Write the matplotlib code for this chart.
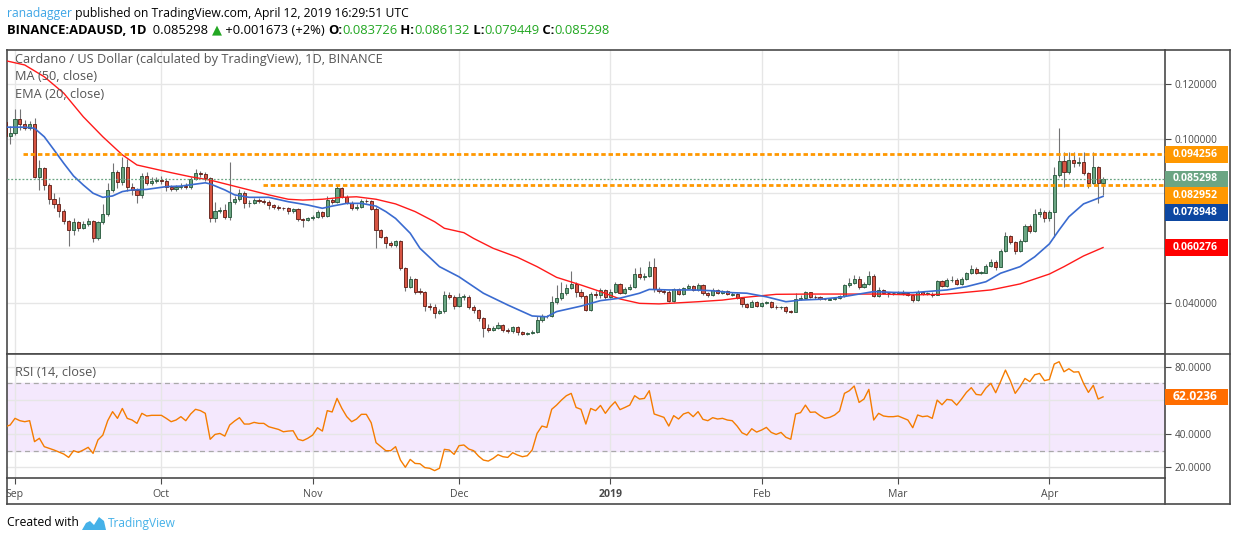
import datetime as dt
import numpy as np
import matplotlib
matplotlib.use('Agg')
import matplotlib.pyplot as plt
import matplotlib.dates as mdates
from matplotlib.lines import Line2D
from matplotlib.patches import Polygon, Rectangle

plt.rcParams['font.family'] = ['Open Sans', 'DejaVu Sans']

# ---- data (daily candles, BINANCE ADAUSD) ----
start = dt.datetime(2018, 8, 30)
first_open = 0.1062

closes = [
    0.1010, 0.1022, 0.1071, 0.1054, 0.1038, 0.1054, 0.0861, 0.0892, 0.0831, 0.0779,
    0.0762, 0.0737, 0.0701, 0.0667, 0.0695, 0.0675, 0.0690, 0.0700, 0.0636, 0.0695,
    0.0725, 0.0813, 0.0877, 0.0843, 0.0898, 0.0825, 0.0813, 0.0795, 0.0864, 0.0840,
    0.0846, 0.0850, 0.0846, 0.0823, 0.0815, 0.0822, 0.0829, 0.0822, 0.0852, 0.0874,
    0.0870, 0.0855, 0.0709, 0.0737, 0.0740, 0.0715, 0.0768, 0.0779, 0.0801, 0.0766,
    0.0766, 0.0776, 0.0774, 0.0770, 0.0757, 0.0752, 0.0747, 0.0746, 0.0735, 0.0742,
    0.0707, 0.0705, 0.0709, 0.0715, 0.0731, 0.0719, 0.0776, 0.0768, 0.0819, 0.0788,
    0.0766, 0.0746, 0.0752, 0.0773, 0.0771, 0.0745, 0.0667, 0.0642, 0.0618, 0.0611,
    0.0627, 0.0527, 0.0460, 0.0488, 0.0442, 0.0441, 0.0389, 0.0385, 0.0365, 0.0371,
    0.0428, 0.0424, 0.0389, 0.0423, 0.0424, 0.0387, 0.0375, 0.0344, 0.0310, 0.0303,
    0.0310, 0.0320, 0.0302, 0.0297, 0.0312, 0.0293, 0.0289, 0.0290, 0.0296, 0.0338,
    0.0354, 0.0352, 0.0403, 0.0417, 0.0436, 0.0455, 0.0469, 0.0440, 0.0426, 0.0375,
    0.0433, 0.0428, 0.0448, 0.0421, 0.0442, 0.0470, 0.0438, 0.0451, 0.0460, 0.0506,
    0.0494, 0.0499, 0.0533, 0.0450, 0.0445, 0.0442, 0.0409, 0.0450, 0.0432, 0.0454,
    0.0462, 0.0448, 0.0466, 0.0436, 0.0430, 0.0448, 0.0436, 0.0443, 0.0432, 0.0432,
    0.0418, 0.0396, 0.0387, 0.0405, 0.0391, 0.0399, 0.0403, 0.0387, 0.0385, 0.0385,
    0.0372, 0.0369, 0.0414, 0.0420, 0.0439, 0.0423, 0.0422, 0.0415, 0.0414, 0.0414,
    0.0418, 0.0426, 0.0466, 0.0474, 0.0488, 0.0460, 0.0470, 0.0500, 0.0427, 0.0448,
    0.0438, 0.0436, 0.0437, 0.0440, 0.0436, 0.0430, 0.0411, 0.0439, 0.0434, 0.0435,
    0.0430, 0.0480, 0.0463, 0.0484, 0.0484, 0.0470, 0.0487, 0.0509, 0.0524, 0.0511,
    0.0511, 0.0535, 0.0551, 0.0533, 0.0590, 0.0645, 0.0624, 0.0591, 0.0627, 0.0681,
    0.0664, 0.0724, 0.0734, 0.0712, 0.0731, 0.0868, 0.0919, 0.0880, 0.0922, 0.0910,
    0.0915, 0.0874, 0.0840, 0.0896, 0.083726, 0.085298,
]

highs = [
    0.1075, 0.1046, 0.1107, 0.1107, 0.1068, 0.1066, 0.1075, 0.0922, 0.0897, 0.0840,
    0.0800, 0.0788, 0.0745, 0.0705, 0.0712, 0.0700, 0.0698, 0.0710, 0.0705, 0.0700,
    0.0760, 0.0840, 0.0910, 0.0885, 0.0934, 0.0927, 0.0838, 0.0820, 0.0875, 0.0878,
    0.0860, 0.0862, 0.0865, 0.0855, 0.0832, 0.0830, 0.0840, 0.0838, 0.0860, 0.0890,
    0.0882, 0.0880, 0.0860, 0.0770, 0.0750, 0.0760, 0.0916, 0.0790, 0.0815, 0.0808,
    0.0775, 0.0782, 0.0782, 0.0780, 0.0776, 0.0762, 0.0758, 0.0752, 0.0752, 0.0748,
    0.0746, 0.0712, 0.0715, 0.0722, 0.0738, 0.0735, 0.0790, 0.0782, 0.0830, 0.0822,
    0.0795, 0.0772, 0.0760, 0.0780, 0.0780, 0.0778, 0.0750, 0.0670, 0.0645, 0.0628,
    0.0632, 0.0632, 0.0530, 0.0500, 0.0492, 0.0455, 0.0445, 0.0400, 0.0395, 0.0380,
    0.0445, 0.0440, 0.0430, 0.0438, 0.0432, 0.0428, 0.0392, 0.0378, 0.0350, 0.0325,
    0.0318, 0.0330, 0.0325, 0.0308, 0.0318, 0.0318, 0.0298, 0.0295, 0.0300, 0.0352,
    0.0362, 0.0358, 0.0425, 0.0466, 0.0478, 0.0470, 0.0517, 0.0478, 0.0450, 0.0430,
    0.0440, 0.0445, 0.0455, 0.0452, 0.0450, 0.0478, 0.0475, 0.0458, 0.0468, 0.0528,
    0.0531, 0.0508, 0.0553, 0.0564, 0.0458, 0.0452, 0.0446, 0.0455, 0.0455, 0.0458,
    0.0470, 0.0466, 0.0472, 0.0470, 0.0440, 0.0454, 0.0452, 0.0448, 0.0447, 0.0440,
    0.0436, 0.0420, 0.0400, 0.0410, 0.0408, 0.0404, 0.0408, 0.0406, 0.0392, 0.0390,
    0.0390, 0.0374, 0.0436, 0.0428, 0.0445, 0.0442, 0.0428, 0.0426, 0.0420, 0.0418,
    0.0422, 0.0430, 0.0470, 0.0490, 0.0503, 0.0500, 0.0478, 0.0517, 0.0505, 0.0458,
    0.0452, 0.0442, 0.0442, 0.0445, 0.0446, 0.0440, 0.0434, 0.0446, 0.0444, 0.0440,
    0.0440, 0.0486, 0.0486, 0.0490, 0.0500, 0.0490, 0.0495, 0.0515, 0.0540, 0.0530,
    0.0516, 0.0542, 0.0560, 0.0556, 0.0596, 0.0661, 0.0650, 0.0628, 0.0635, 0.0690,
    0.0690, 0.0742, 0.0748, 0.0740, 0.0740, 0.0898, 0.1038, 0.0950, 0.0953, 0.0953,
    0.0935, 0.0950, 0.0880, 0.0951, 0.0900, 0.086132,
]

lows = [
    0.1000, 0.0981, 0.1015, 0.1032, 0.1030, 0.1030, 0.0855, 0.0813, 0.0811, 0.0760,
    0.0748, 0.0715, 0.0690, 0.0608, 0.0650, 0.0662, 0.0670, 0.0682, 0.0624, 0.0630,
    0.0690, 0.0718, 0.0805, 0.0820, 0.0830, 0.0810, 0.0795, 0.0764, 0.0785, 0.0830,
    0.0832, 0.0838, 0.0835, 0.0810, 0.0808, 0.0808, 0.0815, 0.0815, 0.0815, 0.0848,
    0.0860, 0.0845, 0.0697, 0.0697, 0.0728, 0.0708, 0.0703, 0.0760, 0.0772, 0.0746,
    0.0752, 0.0760, 0.0766, 0.0762, 0.0745, 0.0744, 0.0738, 0.0738, 0.0725, 0.0730,
    0.0700, 0.0679, 0.0698, 0.0702, 0.0710, 0.0712, 0.0715, 0.0760, 0.0765, 0.0782,
    0.0760, 0.0738, 0.0740, 0.0748, 0.0765, 0.0740, 0.0600, 0.0636, 0.0600, 0.0605,
    0.0605, 0.0520, 0.0445, 0.0455, 0.0435, 0.0432, 0.0370, 0.0375, 0.0344, 0.0360,
    0.0365, 0.0415, 0.0380, 0.0385, 0.0412, 0.0380, 0.0365, 0.0335, 0.0277, 0.0295,
    0.0298, 0.0305, 0.0296, 0.0290, 0.0292, 0.0282, 0.0283, 0.0285, 0.0286, 0.0292,
    0.0332, 0.0345, 0.0348, 0.0395, 0.0412, 0.0430, 0.0450, 0.0424, 0.0420, 0.0371,
    0.0372, 0.0420, 0.0420, 0.0415, 0.0418, 0.0438, 0.0432, 0.0432, 0.0448, 0.0455,
    0.0488, 0.0485, 0.0494, 0.0440, 0.0438, 0.0432, 0.0405, 0.0405, 0.0428, 0.0428,
    0.0450, 0.0444, 0.0444, 0.0430, 0.0424, 0.0426, 0.0432, 0.0432, 0.0428, 0.0426,
    0.0414, 0.0385, 0.0382, 0.0384, 0.0384, 0.0386, 0.0395, 0.0383, 0.0380, 0.0380,
    0.0365, 0.0363, 0.0366, 0.0410, 0.0416, 0.0418, 0.0416, 0.0410, 0.0410, 0.0410,
    0.0410, 0.0414, 0.0422, 0.0460, 0.0470, 0.0450, 0.0455, 0.0465, 0.0422, 0.0424,
    0.0432, 0.0424, 0.0430, 0.0432, 0.0430, 0.0425, 0.0405, 0.0408, 0.0430, 0.0430,
    0.0424, 0.0428, 0.0458, 0.0460, 0.0476, 0.0466, 0.0466, 0.0484, 0.0505, 0.0506,
    0.0506, 0.0508, 0.0530, 0.0522, 0.0530, 0.0585, 0.0615, 0.0580, 0.0588, 0.0622,
    0.0655, 0.0658, 0.0716, 0.0696, 0.0700, 0.0642, 0.0860, 0.0823, 0.0872, 0.0898,
    0.0900, 0.0866, 0.0819, 0.0835, 0.0764, 0.079449,
]

ma50_days = [0, 4, 8, 12, 16, 20, 24, 27, 31, 34, 38, 42, 46, 50, 54, 58, 61, 65, 69, 72,
             76, 80, 84, 88, 90, 94, 96, 100, 105, 109, 113, 118, 122, 126, 130, 134, 138,
             142, 147, 151, 158, 165, 172, 179, 186, 192, 195, 202, 208, 214, 217, 221, 225]
ma50 = [0.1285, 0.1269, 0.1226, 0.1166, 0.1080, 0.1007, 0.0941, 0.0904, 0.0888, 0.0876,
        0.0861, 0.0849, 0.0831, 0.0813, 0.0795, 0.0779, 0.0776, 0.0779, 0.0786, 0.0788,
        0.0779, 0.0762, 0.0734, 0.0697, 0.0673, 0.0657, 0.0636, 0.0600, 0.0567, 0.0533,
        0.0494, 0.0466, 0.0442, 0.0415, 0.0399, 0.0397, 0.0401, 0.0405, 0.0411, 0.0420,
        0.0432, 0.0433, 0.0433, 0.0433, 0.0430, 0.0432, 0.0436, 0.0448, 0.0470, 0.0506,
        0.0533, 0.0572, 0.060276]

ema20_days = [0, 4, 6, 8, 10, 12, 14, 16, 18, 20, 22, 24, 26, 29, 33, 36, 41, 42, 45, 47,
              50, 54, 58, 62, 65, 67, 70, 73, 76, 78, 80, 83, 85, 89, 93, 98, 103, 108, 111,
              113, 118, 122, 126, 130, 132, 136, 141, 145, 149, 152, 156, 160, 163, 167, 171,
              175, 178, 182, 186, 193, 197, 201, 204, 208, 211, 214, 216, 218, 221, 225]
ema20 = [0.1042, 0.1042, 0.1038, 0.1007, 0.0959, 0.0910, 0.0864, 0.0831, 0.0801, 0.0786,
         0.0791, 0.0807, 0.0813, 0.0815, 0.0825, 0.0827, 0.0839, 0.0835, 0.0813, 0.0795,
         0.0786, 0.0786, 0.0770, 0.0758, 0.0746, 0.0754, 0.0764, 0.0764, 0.0754, 0.0734,
         0.0709, 0.0655, 0.0600, 0.0533, 0.0496, 0.0436, 0.0393, 0.0353, 0.0350, 0.0369,
         0.0389, 0.0409, 0.0418, 0.0436, 0.0450, 0.0448, 0.0448, 0.0445, 0.0438, 0.0436,
         0.0423, 0.0405, 0.0411, 0.0414, 0.0421, 0.0433, 0.0442, 0.0439, 0.0438, 0.0448,
         0.0460, 0.0478, 0.0509, 0.0533, 0.0569, 0.0616, 0.0667, 0.0715, 0.0762, 0.078948]

rsi = [
    44.2, 45.2, 49.2, 47.8, 47.2, 47.8, 35.3, 37.3, 32.3, 31.3,
    30.3, 29.1, 27.9, 25.9, 29.9, 28.9, 30.3, 31.9, 28.3, 36.3,
    39.2, 47.8, 53.2, 49.2, 55.1, 49.2, 48.2, 46.2, 52.2, 50.6,
    51.0, 51.0, 51.0, 49.2, 47.2, 48.2, 50.2, 47.8, 51.8, 54.6,
    53.8, 52.2, 36.7, 39.6, 40.2, 38.6, 45.2, 47.6, 49.6, 45.8,
    45.8, 46.8, 46.2, 46.2, 44.2, 43.4, 42.6, 41.2, 41.6, 41.8,
    36.7, 35.9, 37.3, 39.2, 43.6, 41.6, 53.8, 53.0, 61.1, 55.1,
    50.2, 47.2, 48.8, 51.6, 51.6, 46.6, 34.7, 32.3, 29.9, 29.9,
    32.3, 24.3, 20.0, 24.7, 22.3, 22.1, 19.8, 19.4, 18.0, 19.4,
    30.7, 30.3, 27.7, 32.9, 33.3, 30.9, 29.9, 26.7, 24.3, 23.7,
    25.3, 27.5, 26.3, 25.9, 28.7, 27.3, 26.3, 26.9, 30.3, 40.2,
    44.6, 43.8, 54.6, 57.1, 60.1, 62.7, 64.1, 55.7, 54.6, 45.8,
    55.1, 53.8, 56.9, 52.2, 56.1, 59.1, 54.4, 55.7, 57.1, 62.7,
    60.7, 61.1, 65.7, 51.8, 50.8, 49.8, 44.6, 50.8, 48.8, 51.8,
    52.8, 50.2, 53.2, 48.6, 47.8, 49.6, 48.8, 49.2, 48.2, 47.8,
    44.6, 40.6, 39.2, 43.0, 41.0, 42.2, 43.8, 40.8, 39.6, 40.8,
    37.9, 36.7, 51.8, 52.6, 57.1, 52.8, 53.0, 50.8, 49.2, 49.8,
    51.2, 53.6, 64.1, 65.7, 68.5, 58.7, 60.7, 66.5, 48.2, 52.2,
    50.6, 50.2, 50.2, 50.6, 49.4, 48.2, 43.6, 51.2, 50.2, 50.6,
    49.2, 60.1, 57.3, 60.5, 60.1, 57.1, 60.7, 64.7, 67.5, 63.5,
    63.1, 67.3, 70.1, 64.5, 71.1, 78.0, 71.7, 64.1, 68.1, 73.0,
    71.1, 75.2, 76.0, 71.7, 72.4, 81.6, 83.0, 77.0, 78.8, 76.8,
    77.0, 70.1, 64.7, 68.9, 60.7, 62.0236,
]

levels = [0.094256, 0.082952]
level_from = [3.6, 52.9]   # day index where each drawn level begins

month_names = {1: '2019', 2: 'Feb', 3: 'Mar', 4: 'Apr', 9: 'Sep', 10: 'Oct', 11: 'Nov', 12: 'Dec'}

# ---- figure ----
W, H = 1234, 541
fig = plt.figure(figsize=(W / 100, H / 100), dpi=100)
fig.patch.set_facecolor('white')


def fx(x):
    return x / W


def fy(y):
    return 1 - y / H


L, R = 7, 1165
frame_col = '#4a4a4a'
grid_col = '#e6e6e6'
ax = fig.add_axes([fx(L), fy(354), (R - L) / W, (354 - 50) / H])
axr = fig.add_axes([fx(L), fy(478), (R - L) / W, (478 - 354) / H], sharex=ax)

base = mdates.date2num(start)
n = len(closes)
x = base + np.arange(n)
c = np.array(closes)
o = np.r_[first_open, c[:-1]]
hi = np.array(highs)
lo = np.array(lows)
up = c >= o

# candles
ax.vlines(x, lo, hi, color='#737375', lw=0.8, zorder=3)
body_h = np.maximum(np.abs(c - o), 0.00018)
body_b = (o + c) / 2 - body_h / 2
ax.bar(x, body_h, width=0.64, bottom=body_b,
       color=np.where(up, '#6ba583', '#d75442'),
       edgecolor=np.where(up, '#225437', '#5b1a13'), linewidth=0.6, zorder=4)

ax.plot(base + np.array(ma50_days), ma50, color='#ff1a1a', lw=1.0, zorder=5)
ax.plot(base + np.array(ema20_days), ema20, color='#3a6bd0', lw=1.2, zorder=5)

for lev, d0 in zip(levels, level_from):
    ax.plot([base + d0, base + 300], [lev, lev], color='#ff9800', lw=2.0,
            dashes=(1.6, 1.0), zorder=6)
ax.axhline(c[-1], color='#6ba583', lw=0.9, dashes=(1.5, 1.5), zorder=6)

ax.set_xlim(base + 0.36, base + 237.7)
ax.set_ylim(0.02142, 0.13237)
price_ticks = [0.04, 0.06, 0.08, 0.10, 0.12]
ax.set_yticks(price_ticks)
ax.yaxis.tick_right()
ax.grid(True, color=grid_col, lw=1)
ax.set_axisbelow(True)
ax.tick_params(axis='y', direction='out', length=4, color=frame_col,
               labelsize=7.2, labelcolor='#4a4a4a', pad=3)
ax.tick_params(axis='x', length=0, labelbottom=False)

# RSI panel
axr.axhspan(30, 70, color='#f4e8fd', zorder=0)
for lev in (70, 30):
    axr.axhline(lev, color='#a9a9a9', lw=0.9, dashes=(4, 3), zorder=2)
axr.plot(x, rsi, color='#f57c00', lw=1.0, zorder=5)
axr.set_ylim(13.6, 87.6)
axr.set_yticks([20, 40, 60, 80])
axr.yaxis.tick_right()
axr.grid(True, color=grid_col, lw=1)
axr.set_axisbelow(True)
axr.tick_params(axis='y', direction='out', length=4, color=frame_col,
                labelsize=7.2, labelcolor='#4a4a4a', pad=3)

axr.xaxis.set_major_locator(mdates.MonthLocator())
axr.xaxis.set_major_formatter(plt.FuncFormatter(
    lambda v, p: month_names.get(mdates.num2date(v).month, '')))
axr.tick_params(axis='x', direction='out', length=4, color=frame_col,
                labelsize=7.6, labelcolor='#4a4a4a', pad=4)

for a in (ax, axr):
    for s in a.spines.values():
        s.set_color(frame_col)
        s.set_linewidth(1.2)

fig.canvas.draw()
renderer = fig.canvas.get_renderer()
for t in axr.get_xticklabels():
    if t.get_text() == '2019':
        t.set_fontweight('bold')


def fit(t, px):
    w = t.get_window_extent(renderer).width
    t.set_fontsize(t.get_fontsize() * px / w)


# coloured value labels on the price scale, stacked so they do not overlap
box_w, box_h = 63, 16.7


def stacked_labels(a, items, fmt):
    bb = a.bbox
    placed = []
    last = None
    for val, col in sorted(items, key=lambda it: -it[0]):
        py = a.transData.transform((a.get_xlim()[0], val))[1]
        if last is not None and last - py < box_h:
            py = last - box_h
        last = py
        ya = (py - bb.y0) / bb.height
        a.add_patch(Rectangle((1.0, ya - box_h / 2 / bb.height), box_w / bb.width,
                              box_h / bb.height, transform=a.transAxes, fc=col, ec='none',
                              clip_on=False, zorder=9))
        t = a.text(1.0 + 8 / bb.width, ya, fmt % val, transform=a.transAxes, color='white',
                   fontsize=7.4, fontweight='bold', ha='left', va='center', clip_on=False,
                   zorder=10)
        fit(t, 45)
        placed.append(py)
    return placed


price_items = [(levels[0], '#ff9800'), (c[-1], '#6ba583'), (levels[1], '#ff9800'),
               (ema20[-1], '#0d47a1'), (ma50[-1], '#ff0000')]
placed = stacked_labels(ax, price_items, '%.6f')
rsi_placed = stacked_labels(axr, [(rsi[-1], '#ff6d00')], '%.4f')


def tick_texts(a, ticks, fmt, used):
    out = []
    for t in ticks:
        py = a.transData.transform((a.get_xlim()[0], t))[1]
        out.append('' if any(abs(py - u) < 14 for u in used) else fmt % t)
    return out


ax.set_yticklabels(tick_texts(ax, price_ticks, '%.6f', placed))
axr.set_yticklabels(tick_texts(axr, [20, 40, 60, 80], '%.4f', rsi_placed))


# extra frame lines around the scales
def fline(x0, y0, x1, y1):
    fig.add_artist(Line2D([fx(x0), fx(x1)], [fy(y0), fy(y1)], transform=fig.transFigure,
                          color=frame_col, lw=1.2))


fline(R, 50, 1230, 50)
fline(1230, 50, 1230, 504)
fline(R, 354, 1230, 354)
fline(L, 504, 1230, 504)
fline(L, 478, L, 504)
fline(R, 478, R, 504)

# in-chart legends
leg_col = '#555555'
t = fig.text(fx(15), fy(60), 'Cardano / US Dollar (calculated by TradingView), 1D, BINANCE',
             color=leg_col, fontsize=8.5, va='center')
fit(t, 363)
fs_leg = t.get_fontsize()
fig.text(fx(15), fy(77), 'MA (50, close)', color=leg_col, fontsize=fs_leg, va='center')
fig.text(fx(15), fy(94), 'EMA (20, close)', color=leg_col, fontsize=fs_leg, va='center')
fig.text(fx(15), fy(372), 'RSI (14, close)', color=leg_col, fontsize=fs_leg, va='center')

# header
green = '#22a722'
t1 = fig.text(fx(7), fy(13), 'ranadagger', color='#3fa6e6', fontsize=9, va='center')
t2 = fig.text(fx(7), fy(13), 'ranadagger published on TradingView.com, April 12, 2019 16:29:51 UTC',
              color='black', fontsize=9, va='center', alpha=0)
fit(t2, 406)
fs_head = t2.get_fontsize()
t1.set_fontsize(fs_head)
w1 = t1.get_window_extent(renderer).width
fig.text(fx(7 + w1), fy(13), ' published on TradingView.com, April 12, 2019 16:29:51 UTC',
         color='black', fontsize=fs_head, va='center')

segments = [
    ('BINANCE:ADAUSD, 1D', 'bold', 'black'),
    ('  %.6f ' % c[-1], 'normal', 'black'),
    ('\u25b2', 'normal', green),
    (' +0.001673 (+2%) ', 'normal', 'black'),
    ('O:', 'bold', 'black'), ('%.6f' % o[-1], 'normal', green),
    (' H:', 'bold', 'black'), ('%.6f' % hi[-1], 'normal', green),
    (' L:', 'bold', 'black'), ('%.6f' % lo[-1], 'normal', green),
    (' C:', 'bold', 'black'), ('%.6f' % c[-1], 'normal', green),
]
seg_texts = [fig.text(0, fy(30), txt, color=col, fontweight=wt, fontsize=fs_head, va='center')
             for txt, wt, col in segments]
total = sum(s.get_window_extent(renderer).width for s in seg_texts)
scale = (612 - 7) / total
cx = 7
for s in seg_texts:
    s.set_fontsize(fs_head * scale)
    s.set_x(fx(cx))
    cx += s.get_window_extent(renderer).width

# footer
tc = fig.text(fx(7), fy(523), 'Created with', color='black', fontsize=8.5, va='center')
fit(tc, 72)
tv = fig.text(fx(108), fy(523), 'TradingView', color='#45b1e8', fontsize=8.5, va='center')
fit(tv, 68)
logo = [(82, 530), (86, 523), (90, 521), (94, 525), (99, 517), (104, 521), (106, 530)]
fig.add_artist(Polygon([(fx(a), fy(b)) for a, b in logo], closed=True, transform=fig.transFigure,
                       fc='#45b1e8', ec='none'))

fig.savefig('out.png', dpi=100)
